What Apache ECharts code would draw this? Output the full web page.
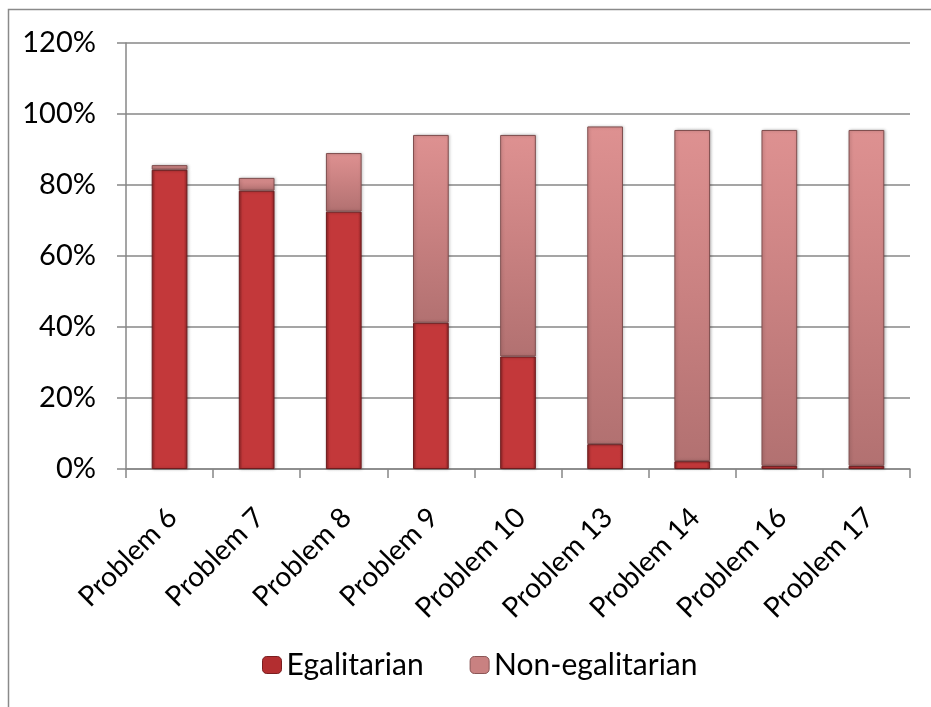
<!DOCTYPE html>
<html>
<head>
<meta charset="utf-8">
<script src="https://cdn.jsdelivr.net/npm/echarts@6/dist/echarts.min.js"></script>
<style>
  html, body { margin: 0; padding: 0; background: #fff; }
  #chart { width: 931px; height: 707px; }
</style>
</head>
<body>
<div id="chart"></div>
<script>
// Share of answers per problem (percent)
const categories = ['Problem 6', 'Problem 7', 'Problem 8', 'Problem 9', 'Problem 10',
                    'Problem 13', 'Problem 14', 'Problem 16', 'Problem 17'];
const egalitarian    = [84.3, 78.4, 72.5, 41.2, 31.7, 7.0, 2.2, 0.9, 0.9];
const nonEgalitarian = [1.3, 3.6, 16.5, 52.9, 62.4, 89.5, 93.3, 94.6, 94.6];
const yTicks = [0, 20, 40, 60, 80, 100, 120];

const FONT = 'Lato, "Open Sans", sans-serif';
const GRID_GRAY = '#878787';

// Bevel-like fills: darker edges, lighter middle
function sideShade(edge, mid) {
  return new echarts.graphic.LinearGradient(0, 0, 1, 0, [
    { offset: 0, color: edge },
    { offset: 0.1, color: mid },
    { offset: 0.9, color: mid },
    { offset: 1, color: edge }
  ]);
}
const egalFill = sideShade('#8f2426', '#c3383a');
const nonEgalFill = new echarts.graphic.LinearGradient(0, 0, 0, 1, [
  { offset: 0, color: '#de9191' },
  { offset: 0.5, color: '#c98181' },
  { offset: 1, color: '#b27171' }
]);

const chart = echarts.init(document.getElementById('chart'), null, { renderer: 'canvas' });
chart.setOption({
  backgroundColor: '#ffffff',
  animation: false,
  graphic: [{
    type: 'rect',
    shape: { x: 8.5, y: 9.5, width: 960, height: 760 },
    style: { fill: 'none', stroke: '#8a8a8a', lineWidth: 1.5 },
    silent: true
  }],
  grid: { left: 126, right: 21, top: 43, bottom: 238, containLabel: false },
  legend: {
    left: 262,
    top: 650,
    padding: 0,
    itemWidth: 19,
    itemHeight: 17,
    itemGap: 46,
    textStyle: { fontFamily: FONT, fontSize: 30, color: '#000' },
    data: [
      { name: 'Egalitarian', itemStyle: { color: '#b32e30', borderColor: '#7a1e20', borderWidth: 1 } },
      { name: 'Non-egalitarian', itemStyle: { color: '#c98181', borderColor: '#8a5555', borderWidth: 1 } }
    ]
  },
  xAxis: {
    type: 'category',
    data: categories,
    axisLine: { lineStyle: { color: GRID_GRAY, width: 1.5 } },
    axisTick: { show: true, length: 9, alignWithLabel: false, lineStyle: { color: GRID_GRAY, width: 1.5 } },
    axisLabel: {
      rotate: 45,
      interval: 0,
      margin: 27,
      verticalAlign: 'top',
      padding: [0, 10, 0, 0],
      fontFamily: FONT,
      fontSize: 28,
      color: '#000'
    }
  },
  yAxis: {
    type: 'value',
    min: 0,
    max: 120,
    interval: 20,
    axisLine: { show: true, lineStyle: { color: GRID_GRAY, width: 1.5 } },
    axisTick: { show: true, length: 9, lineStyle: { color: GRID_GRAY, width: 1.5 } },
    splitLine: { show: true, lineStyle: { color: GRID_GRAY, width: 1.5 } },
    axisLabel: {
      margin: 30,
      fontFamily: FONT,
      fontSize: 29,
      color: '#000',
      formatter: v => (yTicks.includes(v) ? v + '%' : '')
    }
  },
  series: [
    {
      name: 'Egalitarian',
      type: 'bar',
      stack: 'share',
      data: egalitarian,
      barWidth: '41%',
      itemStyle: {
        color: egalFill,
        borderColor: '#6e1c1e',
        borderWidth: 1,
        shadowColor: 'rgba(0,0,0,0.25)',
        shadowBlur: 3,
        shadowOffsetX: 1
      }
    },
    {
      name: 'Non-egalitarian',
      type: 'bar',
      stack: 'share',
      data: nonEgalitarian,
      barWidth: '41%',
      itemStyle: {
        color: nonEgalFill,
        borderColor: '#7f4e4e',
        borderWidth: 1,
        shadowColor: 'rgba(0,0,0,0.25)',
        shadowBlur: 3,
        shadowOffsetX: 1
      }
    }
  ]
});
</script>
</body>
</html>
